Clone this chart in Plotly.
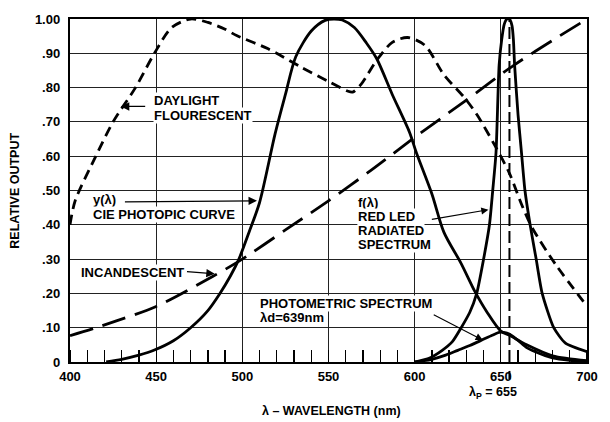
import plotly.graph_objects as go

# ---------------- data ----------------
x_ticks = [400, 450, 500, 550, 600, 650, 700]
x_tick_labels = ["400", "450", "500", "550", "600", "650", "700"]
y_ticks = [0, 0.1, 0.2, 0.3, 0.4, 0.5, 0.6, 0.7, 0.8, 0.9, 1.0]
y_tick_labels = ["0", ".10", ".20", ".30", ".40", ".50", ".60", ".70", ".80", ".90", "1.00"]

daylight_wl = [400, 403, 415, 425, 438, 449, 459, 470, 480, 490, 497, 515, 534, 550, 561, 564,
               569, 578, 587, 596, 606, 617, 629, 636, 647, 655, 662, 668, 682, 700]
daylight = [0.40, 0.47, 0.60, 0.70, 0.80, 0.90, 0.975, 1.0, 0.99, 0.97, 0.951, 0.913, 0.86, 0.818,
            0.79, 0.787, 0.81, 0.88, 0.932, 0.946, 0.923, 0.837, 0.77, 0.722, 0.627, 0.55, 0.46,
            0.393, 0.283, 0.163]

incand_wl = [400, 415, 450, 483, 500, 525, 550, 575, 600, 629, 657.5, 700]
incand = [0.077, 0.10, 0.162, 0.25, 0.30, 0.385, 0.47, 0.56, 0.655, 0.76, 0.865, 1.0]

cie_wl = [421, 430, 440, 449, 460, 470, 480, 487, 493, 498, 504, 510, 519, 525, 531, 540, 548,
          553, 558, 565, 572, 578, 587, 597, 601, 610, 617, 627, 635, 642, 650, 655, 665, 680, 700]
cie = [0, 0.008, 0.02, 0.035, 0.062, 0.10, 0.15, 0.20, 0.25, 0.30, 0.38, 0.465, 0.665, 0.78,
       0.89, 0.965, 0.996, 1.0, 0.997, 0.975, 0.93, 0.884, 0.78, 0.67, 0.61, 0.49, 0.378, 0.287,
       0.205, 0.145, 0.09, 0.078, 0.05, 0.018, 0.004]

led_wl = [600, 608, 616, 622, 627, 632, 636, 640, 643.4, 645.3, 647.2, 649, 650.5, 652, 653.5,
          655, 656.5, 657.3, 658, 660, 662, 664, 667, 670.5, 674, 680.7, 687.5, 700]
led = [0, 0.01, 0.034, 0.06, 0.10, 0.145, 0.20, 0.30, 0.40, 0.50, 0.61, 0.865, 0.94, 0.985, 1.0,
       1.0, 0.98, 0.94, 0.865, 0.72, 0.61, 0.50, 0.40, 0.30, 0.20, 0.10, 0.055, 0.03]

photo_wl = [600, 610, 618, 625, 632, 639, 645, 649.6, 653, 656, 660, 665, 670, 680, 690, 700]
photo = [0, 0.008, 0.02, 0.034, 0.048, 0.064, 0.078, 0.087, 0.085, 0.078, 0.063, 0.042, 0.03,
         0.012, 0.005, 0.002]

peak_wl = 655

# ---------------- figure ----------------
FONT = "Liberation Sans"
fig = go.Figure()

line_w = 2.8
fig.add_trace(go.Scatter(x=daylight_wl, y=daylight, mode="lines",
                         line=dict(color="black", width=line_w, dash="10px,6px", shape="spline", smoothing=0.8)))
fig.add_trace(go.Scatter(x=incand_wl, y=incand, mode="lines",
                         line=dict(color="black", width=line_w, dash="24px,10px", shape="spline", smoothing=0.8)))
fig.add_trace(go.Scatter(x=cie_wl, y=cie, mode="lines",
                         line=dict(color="black", width=line_w, shape="spline", smoothing=0.8)))
fig.add_trace(go.Scatter(x=led_wl, y=led, mode="lines",
                         line=dict(color="black", width=line_w, shape="spline", smoothing=0.6)))
fig.add_trace(go.Scatter(x=photo_wl, y=photo, mode="lines",
                         line=dict(color="black", width=line_w, shape="spline", smoothing=0.8)))
fig.add_trace(go.Scatter(x=[peak_wl, peak_wl], y=[0, 1.0], mode="lines",
                         line=dict(color="black", width=2, dash="12px,5px")))

# small tick below axis at the peak wavelength
fig.add_shape(type="line", xref="x", yref="paper", x0=peak_wl, x1=peak_wl, y0=-0.026, y1=-0.05,
              line=dict(color="black", width=2))

tf = dict(family=FONT, size=13, color="black", weight="bold")

def label(x, y, text, **kw):
    fig.add_annotation(x=x, y=y, text=text, showarrow=False, xanchor="left", yanchor="middle",
                       font=tf, bgcolor="white", borderpad=0, **kw)

def arrow(x0, y0, x1, y1, w=1.3):
    fig.add_annotation(x=x1, y=y1, ax=x0, ay=y0, axref="x", ayref="y", xref="x", yref="y",
                       text="", showarrow=True, arrowhead=2, arrowsize=1.3, arrowwidth=w,
                       arrowcolor="black", standoff=0)

label(448.3, 0.763, "DAYLIGHT")
label(448.3, 0.72, "FLOURESCENT")
arrow(444.5, 0.745, 429.5, 0.745)

label(413, 0.473, "y(λ)")
label(413, 0.43, "CIE PHOTOPIC CURVE")
arrow(431, 0.467, 508.5, 0.47)

label(405.7, 0.262, "INCANDESCENT")
arrow(467, 0.264, 484, 0.257)

label(566.5, 0.464, "f(λ)")
label(566.5, 0.424, "RED LED")
label(566.5, 0.384, "RADIATED")
label(566.5, 0.344, "SPECTRUM")
arrow(609.1, 0.415, 642.8, 0.444, w=1.1)

label(509.7, 0.172, "PHOTOMETRIC SPECTRUM")
label(509.7, 0.129, "λd=639nm")
arrow(610.2, 0.140, 639.5, 0.064, w=1.1)

fig.add_annotation(x=645.5, y=-0.089, xref="x", yref="paper", text="λ<sub>P</sub> = 655",
                   showarrow=False, font=dict(family=FONT, size=12.5, color="black", weight="bold"),
                   xanchor="center", yanchor="middle")

fig.add_annotation(x=0.506, y=-0.143, xref="paper", yref="paper", text="λ – WAVELENGTH (nm)",
                   showarrow=False, font=dict(family=FONT, size=12.5, color="black", weight="bold"),
                   xanchor="center", yanchor="middle")
fig.add_annotation(x=-0.108, y=0.5, xref="paper", yref="paper", text="RELATIVE OUTPUT",
                   textangle=-90, showarrow=False,
                   font=dict(family=FONT, size=12.5, color="black", weight="bold"),
                   xanchor="center", yanchor="middle")

fig.update_xaxes(range=[400, 700], tickvals=x_ticks, ticktext=x_tick_labels, tickfont=tf,
                 showgrid=True, gridcolor="#222", gridwidth=1, zeroline=False,
                 showline=True, linecolor="black", linewidth=2.2, mirror=True,
                 ticks="", ticklabelstandoff=1,
                 minor=dict(dtick=10, tick0=400, ticks="inside", ticklen=12, tickcolor="black",
                            tickwidth=1.3, showgrid=False))
fig.update_yaxes(range=[0, 1.0], tickvals=y_ticks, ticktext=y_tick_labels, tickfont=tf,
                 showgrid=True, gridcolor="#222", gridwidth=1, zeroline=False,
                 showline=True, linecolor="black", linewidth=2.2, mirror=True,
                 ticks="", ticklabelstandoff=5)

fig.update_layout(width=610, height=422, margin=dict(l=70, r=12, t=13, b=60),
                  paper_bgcolor="white", plot_bgcolor="white", showlegend=False)

fig.write_html("out.html", config={"displayModeBar": False, "staticPlot": True},
               post_script="document.body.style.margin='0px';document.body.style.overflow='hidden';")
